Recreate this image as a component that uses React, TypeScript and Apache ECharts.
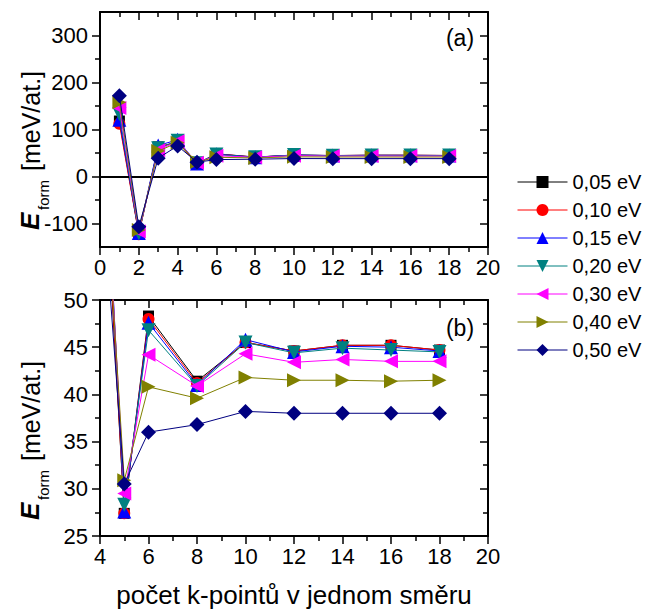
import React, { useEffect, useRef } from "react";
import * as echarts from "echarts";

// k-point mesh sizes (points per direction)
const kPoints = [1, 2, 3, 4, 5, 6, 8, 10, 12, 14, 16, 18];

// formation energies [meV/at.] for each smearing width
const e005 = [118, -122, 63, 73, 27.4, 48.3, 41.4, 45.5, 44.6, 45.2, 45.2, 44.7];
const e010 = [112, -123, 62, 74, 27.4, 48.0, 41.2, 45.5, 44.6, 45.2, 45.2, 44.7];
const e015 = [121, -120, 66, 78, 27.6, 47.6, 41.0, 45.8, 44.5, 45.1, 45.0, 44.6];
const e020 = [133, -121, 60, 76, 28.3, 46.8, 40.9, 45.5, 44.4, 44.9, 44.7, 44.5];
const e030 = [146, -117, 56, 75, 29.5, 44.2, 40.9, 44.3, 43.4, 43.7, 43.5, 43.5];
const e040 = [158, -114, 54, 72, 30.9, 40.8, 39.6, 41.8, 41.5, 41.5, 41.4, 41.5];
const e050 = [172, -107, 39, 65, 30.5, 36.0, 36.8, 38.2, 38.0, 38.0, 38.0, 38.0];

const seriesNames = ["0,05 eV", "0,10 eV", "0,15 eV", "0,20 eV", "0,30 eV", "0,40 eV", "0,50 eV"];
const seriesValues = [e005, e010, e015, e020, e030, e040, e050];

const topTicks = [-100, 0, 100, 200, 300];
const topMinorTicks = [-50, 50, 150, 250];

const xTitle = "počet k-pointů v jednom směru";
const yTitleMain = "E";
const yTitleSub = "form";
const yTitleUnit = "[meV/at.]";

const colors = ["#000000", "#ff0000", "#0000ff", "#008080", "#ff00ff", "#808000", "#000080"];
const symbols = ["rect", "circle", "triangle", "triangle", "triangle", "triangle", "diamond"];
const rotations = [0, 0, 0, 180, 90, -90, 0];
const sizes = [11, 12, 14, 14, 14, 14, 15];

const FONT = "Arial, 'Liberation Sans', sans-serif";
const TICK_FONT = 22;

const axisLineStyle = { show: true, lineStyle: { color: "#000", width: 2 }, onZero: false };

function xAxisPair(grid: number, min: number) {
  const base = {
    gridIndex: grid,
    type: "value" as const,
    min,
    max: 20,
    interval: 2,
    axisLine: axisLineStyle,
    splitLine: { show: false },
    minorSplitLine: { show: false },
    minorTick: { show: true, splitNumber: 2, length: 5, lineStyle: { color: "#000", width: 1.5 } },
  };
  return [
    {
      ...base,
      position: "bottom",
      axisTick: { show: true, inside: false, length: 8, lineStyle: { color: "#000", width: 1.5 } },
      axisLabel: { show: true, color: "#000", fontSize: TICK_FONT, fontFamily: FONT, margin: 9 },
    },
    {
      ...base,
      position: "top",
      axisTick: { show: true, inside: true, length: 8, lineStyle: { color: "#000", width: 1.5 } },
      axisLabel: { show: false },
    },
  ];
}

function titleGroup(x: number, y: number) {
  return {
    type: "group",
    x,
    y,
    rotation: Math.PI / 2,
    children: [
      {
        type: "text",
        x: 0,
        y: -9,
        style: {
          text: yTitleMain,
          fontFamily: FONT,
          fontSize: 26,
          fontWeight: "bold",
          fontStyle: "italic",
          fill: "#000",
          align: "left",
          verticalAlign: "middle",
        },
      },
      {
        type: "text",
        x: 20,
        y: 4,
        style: { text: yTitleSub, fontFamily: FONT, fontSize: 15, fill: "#000", align: "left", verticalAlign: "middle" },
      },
      {
        type: "text",
        x: 59,
        y: -8,
        style: { text: yTitleUnit, fontFamily: FONT, fontSize: 25, fill: "#000", align: "left", verticalAlign: "middle" },
      },
    ],
  };
}

export default function App() {
  const ref = useRef<HTMLDivElement>(null);

  useEffect(() => {
    if (!ref.current) return;
    const chart = echarts.init(ref.current, null, { renderer: "svg" });

    const makeSeries = (grid: number) =>
      seriesNames.map((name, i) => ({
        type: "line",
        name,
        xAxisIndex: grid === 0 ? 0 : 2,
        yAxisIndex: grid === 0 ? 0 : 4,
        data: kPoints.map((k, j) => [k, seriesValues[i][j]]),
        symbol: symbols[i],
        symbolSize: sizes[i],
        symbolRotate: rotations[i],
        showAllSymbol: true,
        clip: true,
        lineStyle: { color: colors[i], width: 1 },
        itemStyle: { color: colors[i] },
        emphasis: { disabled: true },
        z: 2 + i,
        ...(grid === 0 && i === 0
          ? {
              markLine: {
                silent: true,
                symbol: ["none", "none"],
                label: { show: false },
                lineStyle: { color: "#000", width: 2, type: "solid" },
                data: [{ yAxis: 0 }],
              },
            }
          : {}),
      }));

    const option = {
      animation: false,
      backgroundColor: "#fff",
      textStyle: { fontFamily: FONT },
      grid: [
        { left: 100, top: 12, width: 388, height: 235 },
        { left: 100, top: 300, width: 388, height: 236 },
      ],
      xAxis: [...xAxisPair(0, 0), ...xAxisPair(1, 4)],
      yAxis: [
        // top panel, left: labelled major ticks
        {
          gridIndex: 0,
          type: "value",
          position: "left",
          min: -150,
          max: 350,
          interval: 50,
          axisLine: axisLineStyle,
          axisTick: { show: true, inside: false, length: 8, customValues: topTicks, lineStyle: { color: "#000", width: 1.5 } },
          axisLabel: { show: true, customValues: topTicks, color: "#000", fontSize: TICK_FONT, fontFamily: FONT, margin: 12 },
          splitLine: { show: false },
        },
        // top panel, right mirror
        {
          gridIndex: 0,
          type: "value",
          position: "right",
          min: -150,
          max: 350,
          interval: 50,
          axisLine: axisLineStyle,
          axisTick: { show: true, inside: true, length: 8, customValues: topTicks, lineStyle: { color: "#000", width: 1.5 } },
          axisLabel: { show: false },
          splitLine: { show: false },
        },
        // top panel, left minor ticks
        {
          gridIndex: 0,
          type: "value",
          position: "left",
          min: -150,
          max: 350,
          interval: 50,
          axisLine: { show: false, onZero: false },
          axisTick: { show: true, inside: false, length: 5, customValues: topMinorTicks, lineStyle: { color: "#000", width: 1.5 } },
          axisLabel: { show: false },
          splitLine: { show: false },
        },
        // top panel, right minor ticks
        {
          gridIndex: 0,
          type: "value",
          position: "right",
          min: -150,
          max: 350,
          interval: 50,
          axisLine: { show: false, onZero: false },
          axisTick: { show: true, inside: true, length: 5, customValues: topMinorTicks, lineStyle: { color: "#000", width: 1.5 } },
          axisLabel: { show: false },
          splitLine: { show: false },
        },
        // bottom panel, left
        {
          gridIndex: 1,
          type: "value",
          position: "left",
          min: 25,
          max: 50,
          interval: 5,
          axisLine: axisLineStyle,
          axisTick: { show: true, inside: false, length: 8, lineStyle: { color: "#000", width: 1.5 } },
          minorTick: { show: true, splitNumber: 2, length: 5, lineStyle: { color: "#000", width: 1.5 } },
          axisLabel: { show: true, color: "#000", fontSize: TICK_FONT, fontFamily: FONT, margin: 12 },
          splitLine: { show: false },
          minorSplitLine: { show: false },
        },
        // bottom panel, right mirror
        {
          gridIndex: 1,
          type: "value",
          position: "right",
          min: 25,
          max: 50,
          interval: 5,
          axisLine: axisLineStyle,
          axisTick: { show: true, inside: true, length: 8, lineStyle: { color: "#000", width: 1.5 } },
          minorTick: { show: true, splitNumber: 2, length: 5, lineStyle: { color: "#000", width: 1.5 } },
          axisLabel: { show: false },
          splitLine: { show: false },
          minorSplitLine: { show: false },
        },
      ],
      legend: {
        data: seriesNames,
        orient: "vertical",
        left: 517,
        top: 172,
        padding: 0,
        itemWidth: 50,
        itemHeight: 15,
        itemGap: 8,
        selectedMode: false,
        lineStyle: { width: 1 },
        textStyle: { color: "#000", fontSize: 20, fontFamily: FONT, lineHeight: 18 },
      },
      graphic: [
        {
          type: "text",
          x: 460,
          y: 38,
          style: { text: "(a)", fontFamily: FONT, fontSize: 23, fill: "#000", align: "center", verticalAlign: "middle" },
        },
        {
          type: "text",
          x: 460,
          y: 328,
          style: { text: "(b)", fontFamily: FONT, fontSize: 23, fill: "#000", align: "center", verticalAlign: "middle" },
        },
        {
          type: "text",
          x: 294,
          y: 595,
          style: { text: xTitle, fontFamily: FONT, fontSize: 26, fill: "#000", align: "center", verticalAlign: "middle" },
        },
        titleGroup(39, 230),
        titleGroup(39, 520),
      ],
      series: [...makeSeries(0), ...makeSeries(1)],
    };

    chart.setOption(option as any);
    return () => chart.dispose();
  }, []);

  return (
    <div
      ref={ref}
      style={{ position: "fixed", left: 0, top: 0, width: 654, height: 612, background: "#fff" }}
    />
  );
}
